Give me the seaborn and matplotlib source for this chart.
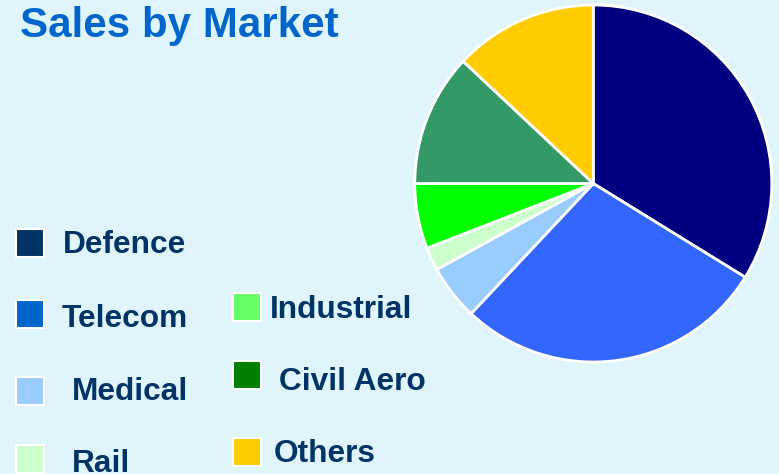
import numpy as np
import seaborn as sns
import matplotlib.pyplot as plt
from matplotlib.patches import Rectangle

# data
markets = ["Defence", "Telecom", "Medical", "Rail", "Industrial", "Civil Aero", "Others"]
shares = [33.8, 28.2, 5.0, 2.1, 5.9, 12.0, 13.0]
pie_colors = ["#000080", "#3366FF", "#99CCFF", "#CCFFCC", "#00FF00", "#339966", "#FFCC00"]
legend_colors = ["#003366", "#0066CC", "#99CCFF", "#CCFFCC", "#66FF66", "#008000", "#FFCC00"]

# legend layout in pixels: patch (x, y_top), label (x, baseline)
patch_pos = [(16, 229), (16, 300), (16, 377), (16, 445), (233, 293), (233, 361), (233, 438)]
label_pos = [(63, 253), (62, 327), (72, 400), (72, 472), (270, 318), (279, 390), (274, 462)]

W, H = 779, 474
BG = "#E0F4FC"

sns.set_theme(style="white")
plt.rcParams['font.family'] = ['Liberation Sans', 'DejaVu Sans']

fig = plt.figure(figsize=(W / 100, H / 100), dpi=100, facecolor=BG)

def fx(x):
    return x / W

def fy(y):
    return (H - y) / H

# pie, centred at ~(593, 183) px with radius ~178 px
cx, cy, r = 593.3, 183.5, 178.5
ax = fig.add_axes([fx(cx - r), fy(cy + r), 2 * r / W, 2 * r / H])
ax.set_facecolor(BG)
ax.pie(shares, colors=pie_colors, startangle=90, counterclock=False,
       wedgeprops=dict(edgecolor="white", linewidth=2))
ax.set_xlim(-1.0, 1.0)
ax.set_ylim(-1.0, 1.0)
ax.set_aspect("equal")
ax.axis("off")

fig.text(fx(20), fy(37), "Sales by Market", color="#0066CC", fontsize=30.3,
         fontweight="bold", va="baseline", ha="left")

for name, col, (px, py), (tx, ty) in zip(markets, legend_colors, patch_pos, label_pos):
    fig.patches.append(Rectangle((fx(px), fy(py + 28)), 28 / W, 28 / H,
                                 transform=fig.transFigure, facecolor=col,
                                 edgecolor="white", linewidth=1.5))
    fig.text(fx(tx), fy(ty), name, color="#003366", fontsize=22.8,
             fontweight="bold", va="baseline", ha="left")

fig.savefig("out.png", dpi=100, facecolor=BG)
